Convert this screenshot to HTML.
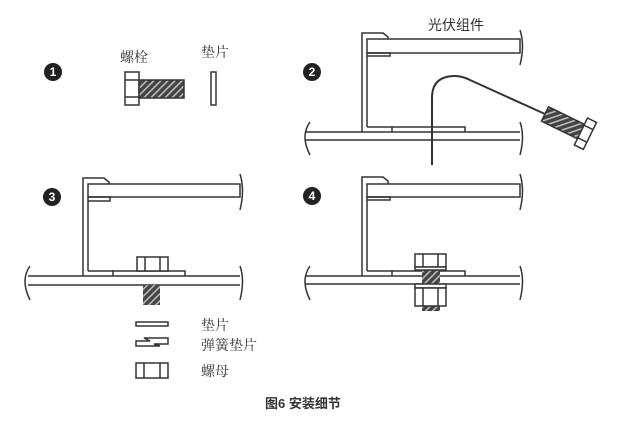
<!DOCTYPE html>
<html><head><meta charset="utf-8"><style>
html,body{margin:0;padding:0;background:#fff;}
svg{display:block}
text{font-family:"Liberation Serif","Noto Serif CJK SC",serif;fill:#333}
</style></head><body>
<svg width="640" height="422" viewBox="0 0 640 422" xmlns="http://www.w3.org/2000/svg">
<defs>
<pattern id="h" width="5" height="5" patternUnits="userSpaceOnUse" patternTransform="rotate(45)">
<rect width="5" height="5" fill="#444"/><rect width="1.6" height="5" fill="#bbb"/>
</pattern>
</defs>
<g stroke="#333" stroke-width="1.5" fill="none">
<!-- Panel 1 -->
<rect x="125" y="72" width="14" height="33" fill="#fff"/>
<line x1="125" y1="80" x2="139" y2="80"/><line x1="125" y1="97" x2="139" y2="97"/>
<rect x="139" y="80" width="45" height="18" fill="url(#h)"/>
<rect x="211" y="72" width="5" height="33" fill="#fff"/>

<!-- Panel 2 -->
<path d="M362 132 V33 H383 L388 37 V39"/>
<path d="M367 127 V53"/>
<rect x="367" y="39" width="153" height="14"/>
<path d="M367 53 H390 V56 H367"/>
<path d="M367 127 H465 V132"/>
<line x1="392" y1="127" x2="392" y2="132"/>
<line x1="305" y1="132" x2="520" y2="132"/>
<line x1="305" y1="140" x2="520" y2="140"/>
<path d="M310 122 Q300 136 310 155 M520 30 Q525 45 520 65 M520 122 Q525 136 520 155"/>
<path d="M432 165 V98 Q432 76 455 76 Q462 76 470 80 L545 114" stroke-width="2"/>
<g transform="translate(545,114) rotate(26)">
<rect x="0" y="-8" width="40" height="16" fill="url(#h)"/>
<rect x="40" y="-15" width="10" height="30" fill="#fff"/>
<line x1="40" y1="-7" x2="50" y2="-7"/><line x1="40" y1="7" x2="50" y2="7"/>
</g>

<!-- Panel 3 -->
<path d="M83 276 V178 H104 L109 182 V184"/>
<path d="M88 271 V197"/>
<rect x="88" y="184" width="152" height="13"/>
<path d="M88 197 H110 V201 H88"/>
<path d="M88 271 H185 V276"/>
<line x1="113" y1="270" x2="113" y2="276"/>
<line x1="28" y1="276" x2="240" y2="276"/>
<line x1="28" y1="285" x2="240" y2="285"/>
<path d="M30 266 Q20 280 30 300 M240 174 Q245 190 240 210 M240 266 Q245 280 240 300"/>
<rect x="137" y="257" width="31" height="14" fill="#fff"/>
<line x1="145" y1="257" x2="145" y2="271"/><line x1="160" y1="257" x2="160" y2="271"/>
<rect x="143" y="285" width="17" height="20" fill="url(#h)" stroke="none"/>
<rect x="136" y="322" width="32" height="4"/>
<path d="M136 341 H150 L144 338 H168 V344 H154 L160 346 H136 Z"/>
<rect x="136" y="363" width="32" height="15"/>
<line x1="144" y1="363" x2="144" y2="378"/><line x1="160" y1="363" x2="160" y2="378"/>

<!-- Panel 4 -->
<path d="M362 276 V177 H383 L388 181 V184"/>
<path d="M367 271 V197"/>
<rect x="367" y="184" width="153" height="13"/>
<path d="M367 197 H390 V200 H367"/>
<path d="M367 271 H465 V276"/>
<line x1="392" y1="270" x2="392" y2="276"/>
<line x1="305" y1="276" x2="520" y2="276"/>
<line x1="305" y1="284" x2="520" y2="284"/>
<path d="M310 266 Q300 280 310 300 M520 174 Q525 190 520 210 M520 266 Q525 280 520 300"/>
<rect x="422" y="266" width="18" height="45" fill="url(#h)" stroke="none"/>
<rect x="415" y="254" width="31" height="13" fill="#fff"/>
<line x1="423" y1="254" x2="423" y2="267"/><line x1="438" y1="254" x2="438" y2="267"/>
<rect x="415" y="267" width="31" height="3" fill="#fff"/>
<rect x="415" y="284" width="31" height="4" fill="#fff"/>
<rect x="415" y="288" width="31" height="18" fill="#fff"/>
<line x1="423" y1="288" x2="423" y2="306"/><line x1="438" y1="288" x2="438" y2="306"/>
</g>
<g font-weight="bold" font-size="12" text-anchor="middle">
<circle cx="53" cy="72" r="9" fill="#222"/><text x="53" y="76" style="font-family:'Liberation Sans';fill:#fff">1</text>
<circle cx="312" cy="72" r="9" fill="#222"/><text x="312" y="76" style="font-family:'Liberation Sans';fill:#fff">2</text>
<circle cx="52" cy="197" r="9" fill="#222"/><text x="52" y="201" style="font-family:'Liberation Sans';fill:#fff">3</text>
<circle cx="312" cy="196" r="9" fill="#222"/><text x="312" y="200" style="font-family:'Liberation Sans';fill:#fff">4</text>
</g>
<text x="120" y="62" font-size="14">螺栓</text>
<text x="201" y="57" font-size="14">垫片</text>
<text x="428" y="30" font-size="14" style="font-family:'Liberation Sans','Noto Sans CJK SC',sans-serif">光伏组件</text>
<text x="201" y="330" font-size="14">垫片</text>
<text x="201" y="350" font-size="14">弹簧垫片</text>
<text x="201" y="376" font-size="14">螺母</text>
<text x="265" y="408" font-size="13" font-weight="bold" style="font-family:'Liberation Sans','Noto Sans CJK SC',sans-serif">图6 安装细节</text>
</svg>
</body></html>
